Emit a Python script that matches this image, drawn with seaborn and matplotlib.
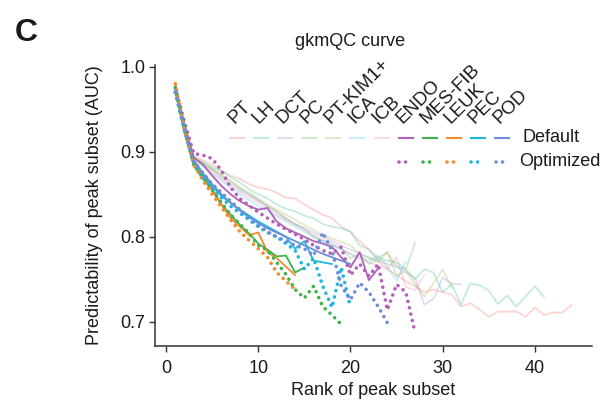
import numpy as np
import pandas as pd
import matplotlib
matplotlib.use("Agg")
import matplotlib.pyplot as plt
import seaborn as sns

# cell types shown in the legend (order as drawn)
cell_types = ["PT", "LH", "DCT", "PC", "PT-KIM1+", "ICA", "ICB",
              "ENDO", "MES-FIB", "LEUK", "PEC", "POD"]
optimized_types = ["ENDO", "MES-FIB", "LEUK", "PEC", "POD"]

colors = {
    "PT": "#F8766D", "LH": "#3DBF95", "DCT": "#A58BD6", "PC": "#5DBB63",
    "PT-KIM1+": "#A3B54A", "ICA": "#45CFD6", "ICB": "#F08CBB",
    "ENDO": "#B45FB8", "MES-FIB": "#3CB44B", "LEUK": "#F28A2E",
    "PEC": "#1FB5E3", "POD": "#6C8ED8",
}

# default gkmQC curves (AUC by rank of peak subset, starting at rank 1)
default_auc = {
    "PT": [0.975, 0.932, 0.895, 0.890, 0.885, 0.878, 0.872, 0.868, 0.862, 0.858,
           0.856, 0.852, 0.846, 0.845, 0.838, 0.832, 0.826, 0.822, 0.812, 0.806,
           0.795, 0.785, 0.772, 0.762, 0.755, 0.748, 0.742, 0.735, 0.738, 0.735,
           0.732, 0.718, 0.722, 0.715, 0.706, 0.712, 0.712, 0.712, 0.706, 0.717,
           0.708, 0.711, 0.711, 0.720],
    "LH": [0.975, 0.932, 0.894, 0.888, 0.882, 0.877, 0.870, 0.864, 0.856, 0.850,
           0.845, 0.838, 0.833, 0.830, 0.825, 0.822, 0.815, 0.812, 0.810, 0.806,
           0.790, 0.785, 0.775, 0.772, 0.770, 0.762, 0.750, 0.762, 0.758, 0.735,
           0.744, 0.720, 0.745, 0.743, 0.737, 0.721, 0.731, 0.718, 0.730, 0.742,
           0.729],
    "DCT": [0.975, 0.930, 0.893, 0.885, 0.878, 0.870, 0.862, 0.855, 0.849, 0.843,
            0.836, 0.829, 0.821, 0.815, 0.810, 0.805, 0.800, 0.795, 0.790, 0.785,
            0.780, 0.776, 0.772, 0.768, 0.765, 0.758, 0.752, 0.720, 0.727, 0.752,
            0.745, 0.744],
    "PC": [0.975, 0.930, 0.893, 0.886, 0.880, 0.872, 0.865, 0.857, 0.850, 0.843,
           0.836, 0.830, 0.822, 0.815, 0.810, 0.800, 0.795, 0.790, 0.787, 0.775,
           0.780, 0.768, 0.775, 0.782, 0.765, 0.762, 0.793],
    "PT-KIM1+": [0.975, 0.930, 0.893, 0.887, 0.880, 0.873, 0.866, 0.858, 0.852, 0.845,
                 0.838, 0.832, 0.826, 0.820, 0.814, 0.808, 0.802, 0.798, 0.794, 0.790,
                 0.780, 0.775, 0.770, 0.782, 0.754, 0.760, 0.745, 0.730, 0.745, 0.762,
                 0.740],
    "ICA": [0.972, 0.928, 0.890, 0.882, 0.874, 0.866, 0.858, 0.850, 0.843, 0.836,
            0.830, 0.824, 0.818, 0.812, 0.806, 0.800, 0.795, 0.790, 0.785, 0.780,
            0.776, 0.772, 0.778, 0.765, 0.749, 0.771],
    "ICB": [0.975, 0.930, 0.892, 0.884, 0.876, 0.868, 0.860, 0.853, 0.846, 0.840,
            0.833, 0.826, 0.820, 0.814, 0.808, 0.802, 0.797, 0.792, 0.786, 0.780,
            0.774, 0.770, 0.766, 0.762, 0.776, 0.741, 0.737, 0.755],
    "ENDO": [0.975, 0.932, 0.893, 0.885, 0.872, 0.860, 0.850, 0.842, 0.836, 0.832,
             0.834, 0.818, 0.810, 0.805, 0.800, 0.795, 0.792, 0.788, 0.776, 0.764,
             0.782, 0.749, 0.763],
    "MES-FIB": [0.978, 0.925, 0.885, 0.872, 0.856, 0.838, 0.826, 0.814, 0.804, 0.792,
                0.785, 0.777, 0.778, 0.758, 0.764],
    "LEUK": [0.980, 0.926, 0.883, 0.868, 0.855, 0.838, 0.822, 0.812, 0.802, 0.805,
             0.782, 0.775, 0.765, 0.755],
    "PEC": [0.970, 0.925, 0.888, 0.872, 0.860, 0.848, 0.840, 0.832, 0.825, 0.818,
            0.812, 0.806, 0.800, 0.786, 0.795, 0.772, 0.770, 0.768],
    "POD": [0.975, 0.930, 0.890, 0.875, 0.862, 0.850, 0.840, 0.831, 0.823, 0.816,
            0.810, 0.805, 0.800, 0.795, 0.790, 0.785, 0.780, 0.776, 0.772, 0.768],
}

# optimized gkmQC curves
optimized_auc = {
    "ENDO": [0.975, 0.935, 0.898, 0.896, 0.892, 0.878, 0.858, 0.845, 0.837, 0.829,
             0.822, 0.815, 0.809, 0.803, 0.797, 0.790, 0.784, 0.780, 0.788, 0.755,
             0.768, 0.754, 0.768, 0.714, 0.744, 0.735, 0.688],
    "MES-FIB": [0.975, 0.925, 0.885, 0.870, 0.855, 0.840, 0.826, 0.815, 0.804, 0.790,
                0.784, 0.770, 0.756, 0.738, 0.728, 0.742, 0.718, 0.708, 0.697],
    "LEUK": [0.980, 0.925, 0.885, 0.866, 0.850, 0.835, 0.820, 0.806, 0.796, 0.786,
             0.776, 0.758, 0.748, 0.738],
    "PEC": [0.970, 0.925, 0.888, 0.870, 0.858, 0.846, 0.836, 0.828, 0.820, 0.812,
            0.805, 0.800, 0.792, 0.784, 0.762, 0.775, 0.742, 0.717, 0.764, 0.717],
    "POD": [0.970, 0.925, 0.888, 0.875, 0.862, 0.852, 0.842, 0.832, 0.822, 0.813,
            0.806, 0.800, 0.795, 0.790, 0.786, 0.778, 0.805, 0.784, 0.742, 0.726,
            0.746, 0.735, 0.718, 0.699],
}

x_ticks = [0, 10, 20, 30, 40]
y_ticks = [0.7, 0.8, 0.9, 1.0]

sns.set_style("ticks")
plt.rcParams["font.family"] = ["Liberation Sans", "DejaVu Sans"]
plt.rcParams["font.size"] = 13
plt.rcParams["text.color"] = "#1a1a1a"
plt.rcParams["axes.labelcolor"] = "#1a1a1a"
plt.rcParams["xtick.labelcolor"] = "#1a1a1a"
plt.rcParams["ytick.labelcolor"] = "#1a1a1a"

fig = plt.figure(figsize=(6.04, 4.04), dpi=100)
ax = fig.add_axes([155 / 604, 58.3 / 404, 437 / 604, 280.7 / 404])

dot_style = (0, (0.01, 1.8))

# faint default curves first, saturated ones on top
for ct in cell_types:
    vals = default_auc[ct]
    df = pd.DataFrame({"rank": np.arange(1, len(vals) + 1), "auc": vals})
    faint = ct not in optimized_types
    sns.lineplot(data=df, x="rank", y="auc", ax=ax, color=colors[ct],
                 linewidth=1.3, alpha=0.3 if faint else 1.0,
                 zorder=1 if faint else 3)

for ct in optimized_types:
    vals = optimized_auc[ct]
    df = pd.DataFrame({"rank": np.arange(1, len(vals) + 1), "auc": vals})
    sns.lineplot(data=df, x="rank", y="auc", ax=ax, color=colors[ct],
                 linewidth=2.6, linestyle=dot_style, dash_capstyle="round",
                 zorder=4)

ax.set_xlim(-1.2, 46.2)
ax.set_ylim(0.672, 1.002)
ax.set_xticks(x_ticks)
ax.set_yticks(y_ticks)
ax.set_yticklabels([f"{v:.1f}" for v in y_ticks])
ax.tick_params(length=4, width=1, color="#333333", labelsize=13)
ax.tick_params(axis="x", pad=6)
ax.tick_params(axis="y", pad=3)
ax.set_xlabel("Rank of peak subset", fontsize=13, labelpad=4)
ax.set_ylabel("Predictability of peak subset (AUC)", fontsize=13, labelpad=12)
sns.despine(ax=ax)
for s in ["left", "bottom"]:
    ax.spines[s].set_linewidth(1.1)
    ax.spines[s].set_color("#333333")

# hand-made legend: rotated labels, default row, optimized row
def ax_x(px):
    return (px - 155) / 437

def ax_y(py):
    return (345.7 - py) / 280.7

step = 24.1
for i, ct in enumerate(cell_types):
    cx = 237 + i * step
    faint = ct not in optimized_types
    ax.plot([ax_x(cx - 8), ax_x(cx + 8)], [ax_y(138), ax_y(138)],
            transform=ax.transAxes, clip_on=False, color=colors[ct],
            linewidth=1.5, alpha=0.3 if faint else 1.0, solid_capstyle="butt")
    if not faint:
        ax.plot([ax_x(cx - 6.5), ax_x(cx + 6.5)], [ax_y(162), ax_y(162)],
                transform=ax.transAxes, clip_on=False, color=colors[ct],
                linewidth=2.6, linestyle=(0, (0.01, 1.8)), dash_capstyle="round")
    ax.text(ax_x(cx - 3), ax_y(124), ct, transform=ax.transAxes, rotation=45,
            rotation_mode="anchor", ha="left", va="baseline", fontsize=13.5)

ax.text(ax_x(523), ax_y(138), "Default", transform=ax.transAxes,
        ha="left", va="center", fontsize=13)
ax.text(ax_x(519), ax_y(162), "Optimized", transform=ax.transAxes,
        ha="left", va="center", fontsize=13)

fig.text(350 / 604, 1 - 46.5 / 404, "gkmQC curve", ha="center", va="baseline",
         fontsize=13)
fig.text(15 / 604, 1 - 41 / 404, "C", ha="left", va="baseline",
         fontsize=23, fontweight="bold")

fig.savefig("out.png", dpi=100)
plt.close(fig)
